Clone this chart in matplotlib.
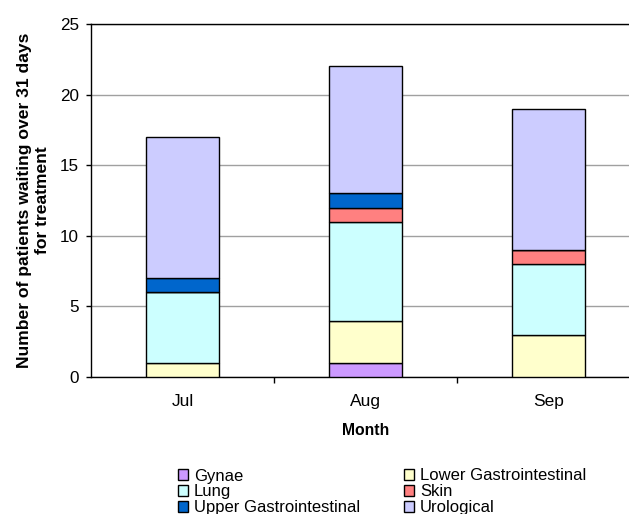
import matplotlib
matplotlib.use("Agg")
import matplotlib.pyplot as plt
import numpy as np

plt.rcParams['font.family'] = ['Liberation Sans', 'DejaVu Sans']

months = ["Jul", "Aug", "Sep"]
series_names = ["Gynae", "Lower Gastrointestinal", "Lung", "Skin",
                "Upper Gastrointestinal", "Urological"]
gynae = [0, 1, 0]
lower_gi = [1, 3, 3]
lung = [5, 7, 5]
skin = [0, 1, 1]
upper_gi = [1, 1, 0]
urological = [10, 9, 10]
colors = ["#CC99FF", "#FFFFCC", "#CCFFFF", "#FF8080", "#0066CC", "#CCCCFF"]

fig = plt.figure(figsize=(6.29, 5.14), dpi=100)
W, H = 629, 514
# plot area extends past the right edge of the figure
ax = fig.add_axes([91 / W, 1 - 377 / H, (640 - 91) / W, (377 - 24) / H])

x = np.arange(len(months))
bottom = np.zeros(len(months))
values = [gynae, lower_gi, lung, skin, upper_gi, urological]
handles = []
for name, vals, col in zip(series_names, values, colors):
    v = np.array(vals, dtype=float)
    b = ax.bar(x, v, bottom=bottom, width=0.404, color=col,
               edgecolor="black", linewidth=1.0, label=name, zorder=3)
    handles.append(b)
    bottom += v

ax.set_xlim(-0.5, 2.5)
ax.set_ylim(0, 25)
ax.set_yticks([0, 5, 10, 15, 20, 25])
ax.yaxis.grid(True, color="#a0a0a0", linewidth=1.0, zorder=0)
ax.set_axisbelow(True)

ax.set_xticks(x)
ax.set_xticklabels(months, fontsize=12.5)
ax.set_xticks([0.5, 1.5], minor=True)
ax.tick_params(axis="x", which="major", length=0, pad=12)
ax.tick_params(axis="x", which="minor", length=4, width=1, color="black",
               direction="out")
ax.tick_params(axis="y", length=3.6, width=1, direction="out", labelsize=12.3,
               pad=5)

for s in ["left", "bottom", "top"]:
    ax.spines[s].set_color("black")
    ax.spines[s].set_linewidth(1.0)
ax.spines["right"].set_visible(False)

ax.set_xlabel("Month", fontsize=11.3, fontweight="bold", labelpad=10.5)
ax.set_ylabel("Number of patients waiting over 31 days\nfor treatment",
              fontsize=12.6, fontweight="bold", labelpad=7, linespacing=1.3)

order = [0, 2, 4, 1, 3, 5]
fig.legend([handles[i] for i in order], [series_names[i] for i in order],
           ncol=2, loc="upper left", bbox_to_anchor=(178 / W, 1 - 468.5 / H),
           frameon=False, fontsize=12, handlelength=0.6, handleheight=0.6,
           handletextpad=0.35, labelspacing=0.05, columnspacing=2.66,
           borderaxespad=0, borderpad=0)

fig.savefig("out.png", dpi=100)
